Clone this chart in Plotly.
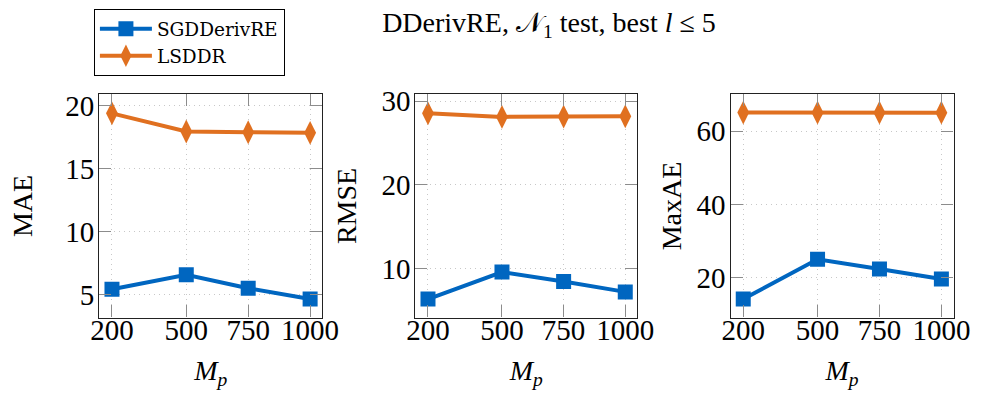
import plotly.graph_objects as go

# Number of points M_p
mp = [200, 500, 750, 1000]

# Errors per metric
mae_sgd = [5.43, 6.58, 5.51, 4.66]
mae_ls = [19.4, 17.96, 17.9, 17.85]
rmse_sgd = [6.38, 9.61, 8.48, 7.24]
rmse_ls = [28.55, 28.13, 28.17, 28.2]
maxae_sgd = [14.2, 25.07, 22.4, 19.7]
maxae_ls = [65.07, 65.05, 65.05, 65.05]

metric_names = ["MAE", "RMSE", "MaxAE"]
y_ticks = [[5, 10, 15, 20], [10, 20, 30], [20, 40, 60]]
y_ranges = [[3.18, 20.91], [4.17, 30.82], [9.15, 70.05]]
x_range = [148.7, 1049]
y_title_standoff = [24, 16, 6]

BLUE = "#0066c0"
ORANGE = "#e07020"
FONT = "Liberation Serif, Times New Roman, serif"
LEGEND_FONT = "DejaVu Serif, Liberation Serif, serif"

W, H = 990, 400
# panel pixel boxes: (left, right)
panels_px = [(92.7, 321.7), (417.3, 645.3), (741, 970)]
top_px, bottom_px = 87.3, 315.7

fig = go.Figure()

series = [
    (mae_sgd, mae_ls),
    (rmse_sgd, rmse_ls),
    (maxae_sgd, maxae_ls),
]

for i, (sgd, ls) in enumerate(series):
    suffix = "" if i == 0 else str(i + 1)
    fig.add_trace(go.Scatter(
        x=mp, y=sgd, mode="lines+markers", name="SGDDerivRE",
        line=dict(color=BLUE, width=4),
        marker=dict(symbol="square", size=15, color=BLUE),
        xaxis="x" + suffix, yaxis="y" + suffix, showlegend=(i == 0),
    ))
    fig.add_trace(go.Scatter(
        x=mp, y=ls, mode="lines+markers", name="LSDDR",
        line=dict(color=ORANGE, width=4),
        marker=dict(symbol="diamond-tall", size=17, color=ORANGE),
        xaxis="x" + suffix, yaxis="y" + suffix, showlegend=(i == 0),
    ))

axis_common = dict(
    showline=True, linecolor="#222222", linewidth=1.3, mirror="allticks",
    ticks="inside", ticklen=12, tickcolor="#8c8c8c", tickwidth=1,
    showgrid=True, gridcolor="#c8c8c8", griddash="1px,4px", gridwidth=1,
    zeroline=False, tickfont=dict(family=FONT, size=29, color="black"),
)

layout = dict(
    width=W, height=H, margin=dict(l=0, r=0, t=0, b=0),
    paper_bgcolor="white", plot_bgcolor="white",
    font=dict(family=FONT, color="black"),
    showlegend=True,
    legend=dict(
        x=87 / W, y=1.0, xanchor="left", yanchor="top",
        bordercolor="black", borderwidth=1.2, bgcolor="white",
        font=dict(family=LEGEND_FONT, size=18.5, color="black"),
        tracegroupgap=0, itemwidth=52,
    ),
    title=dict(
        text="DDerivRE, \U0001D4A9<sub>1</sub> test, best <i>l</i> ≤ 5",
        x=549 / W, xanchor="center", y=1 - 22 / H, yanchor="middle",
        font=dict(family=FONT, size=28, color="black"),
    ),
)

for i, (l, r) in enumerate(panels_px):
    suffix = "" if i == 0 else str(i + 1)
    xa = dict(axis_common)
    xa.update(
        domain=[l / W, r / W], range=x_range, tickvals=mp,
        ticktext=[str(v) for v in mp], anchor="y" + suffix,
        ticklabelstandoff=-14,
        title=dict(text="<i>M</i><sub><i>p</i></sub>",
                   font=dict(family=FONT, size=28), standoff=15),
    )
    ya = dict(axis_common)
    ya.update(
        domain=[1 - bottom_px / H, 1 - top_px / H], range=y_ranges[i],
        tickvals=y_ticks[i], anchor="x" + suffix,
        ticklabelstandoff=-2,
        title=dict(text=metric_names[i], font=dict(family=FONT, size=28),
                   standoff=y_title_standoff[i]),
    )
    layout["xaxis" + suffix] = xa
    layout["yaxis" + suffix] = ya

fig.update_layout(**layout)
fig.write_html("out.html")
